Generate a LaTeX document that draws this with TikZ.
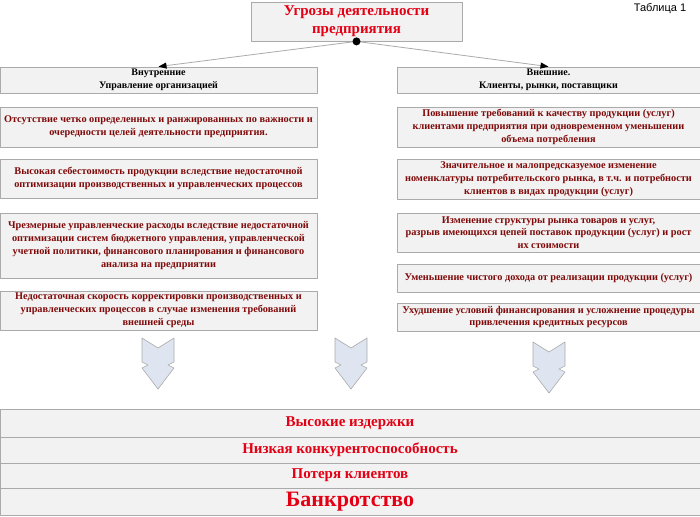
\documentclass[tikz,border=0pt]{standalone}
\usepackage{fontspec}
\setmainfont{Liberation Serif}
\newfontfamily\arialfont{Liberation Sans}
\usetikzlibrary{arrows.meta}
\definecolor{boxfill}{RGB}{242,242,242}
\definecolor{boxline}{RGB}{170,170,170}
\definecolor{darkred}{RGB}{128,10,10}
\definecolor{brightred}{RGB}{228,0,20}
\definecolor{arrowfill}{RGB}{222,229,240}
\begin{document}
\begin{tikzpicture}[x=1pt,y=-1pt,line join=round,
    box/.style={draw=boxline,fill=boxfill,line width=0.8pt,align=center,inner sep=2pt,font=\bfseries\fontsize{10.3}{12.8}\selectfont},
    threat/.style={box,text=darkred},
    head/.style={box,font=\bfseries\fontsize{10}{12.5}\selectfont},
    band/.style={box,minimum width=700,text=brightred,font=\bfseries\fontsize{15}{18}\selectfont},
    link/.style={draw=boxline,line width=0.8pt,-{Triangle[length=8pt,width=6pt,color=black]}}]
    \useasboundingbox (0,0) rectangle (700,516);
    % title
    \node[box,text=brightred,minimum width=211,minimum height=39,font=\bfseries\fontsize{15}{18}\selectfont] (threats) at (356.5,21.5) {Угрозы деятельности\\предприятия};
    \node[font=\arialfont\fontsize{11}{13}\selectfont] (tabl) at (660,9) {Таблица 1};
    % two groups
    \node[head,minimum width=317,minimum height=26] (inner) at (158.5,80) {Внутренние\\Управление организацией};
    \node[head,minimum width=303,minimum height=26] (outer) at (548.5,80) {Внешние.\\Клиенты, рынки, поставщики};
    \draw[link] (threats.south) -- (inner.north);
    \draw[link] (threats.south) -- (outer.north);
    \fill (threats.south) circle (4pt);
    % internal threats
    \node[threat,minimum width=317,minimum height=40] (in1) at (158.5,127) {Отсутствие четко определенных и ранжированных по важности и\\очередности целей деятельности предприятия.};
    \node[threat,minimum width=317,minimum height=39] (in2) at (158.5,178.5) {Высокая себестоимость продукции вследствие недостаточной\\оптимизации производственных и управленческих процессов};
    \node[threat,minimum width=317,minimum height=65] (in3) at (158.5,245.5) {Чрезмерные управленческие расходы вследствие недостаточной\\оптимизации систем бюджетного управления, управленческой\\учетной политики, финансового планирования и финансового\\анализа на предприятии};
    \node[threat,minimum width=317,minimum height=39] (in4) at (158.5,310.5) {Недостаточная скорость корректировки производственных и\\управленческих процессов в случае изменения требований\\внешней среды};
    % external threats
    \node[threat,minimum width=303,minimum height=40] (ex1) at (548.5,127) {Повышение требований к качеству продукции (услуг)\\клиентами предприятия при одновременном уменьшении\\объема потребления};
    \node[threat,minimum width=303,minimum height=40] (ex2) at (548.5,179) {Значительное и малопредсказуемое изменение\\номенклатуры потребительского рынка, в т.ч. и потребности\\клиентов в видах продукции (услуг)};
    \node[threat,minimum width=303,minimum height=39] (ex3) at (548.5,232.5) {Изменение структуры рынка товаров и услуг,\\разрыв имеющихся цепей поставок продукции (услуг) и рост\\их стоимости};
    \node[threat,minimum width=303,minimum height=28] (ex4) at (548.5,278) {Уменьшение чистого дохода от реализации продукции (услуг)};
    \node[threat,minimum width=303,minimum height=28] (ex5) at (548.5,317) {Ухудшение условий финансирования и усложнение процедуры\\привлечения кредитных ресурсов};
    % block arrows
    \foreach \x/\y in {158/338,351/338,549/342}
    \draw[draw=boxline,fill=arrowfill,line width=0.6pt] (\x-16,\y) -- (\x,\y+10) -- (\x+16,\y) -- (\x+16,\y+24) -- (\x+10,\y+27) -- (\x+16,\y+30) -- (\x,\y+51) -- (\x-16,\y+30) -- (\x-10,\y+27) -- (\x-16,\y+24) -- cycle;
    % consequences
    \node[band,minimum height=28] (costs) at (350,423) {Высокие издержки};
    \node[band,minimum height=26] (compet) at (350,450) {Низкая конкурентоспособность};
    \node[band,minimum height=25] (clients) at (350,475.5) {Потеря клиентов};
    \node[band,minimum height=27,font=\bfseries\fontsize{22}{24}\selectfont] (bankrupt) at (350,501.5) {Банкротство};
\end{tikzpicture}
\end{document}
